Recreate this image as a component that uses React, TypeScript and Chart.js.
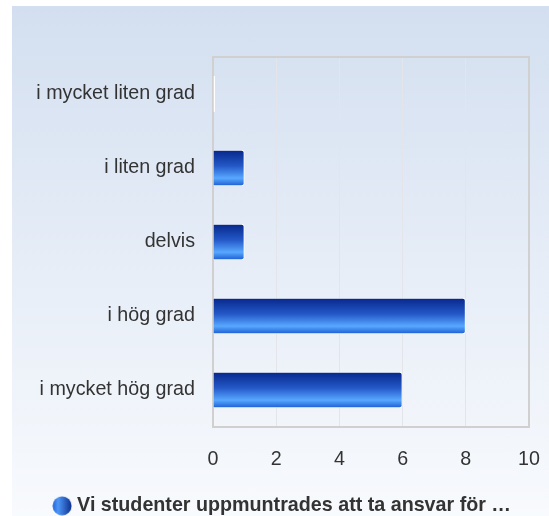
import React, { useEffect, useRef } from "react";
import { Chart, registerables } from "chart.js";

Chart.register(...registerables);

const categories = ["i mycket liten grad", "i liten grad", "delvis", "i hög grad", "i mycket hög grad"];
const values = [0, 1, 1, 8, 6];
const seriesName = "Vi studenter uppmuntrades att ta ansvar för …";
const xTicks = [0, 2, 4, 6, 8, 10];

const FONT = '"Liberation Sans", Arial, sans-serif';
const FS = 19.7;
const BAR_PCT = 0.49;

function makeLegendIcon(): HTMLCanvasElement {
  const c = document.createElement("canvas");
  c.width = 20;
  c.height = 20;
  const g = c.getContext("2d")!;
  const grad = g.createLinearGradient(0, 0, 20, 0);
  grad.addColorStop(0, "#1d5ed6");
  grad.addColorStop(0.3, "#4f97f6");
  grad.addColorStop(1, "#0a2b8a");
  g.fillStyle = grad;
  g.beginPath();
  g.arc(10, 10, 9.5, 0, Math.PI * 2);
  g.fill();
  return c;
}

const plotBorder = {
  id: "plotBorder",
  beforeDatasetsDraw(chart: any) {
    const { ctx, chartArea: a } = chart;
    ctx.save();
    ctx.strokeStyle = "#d0d0d0";
    ctx.lineWidth = 2;
    ctx.strokeRect(a.left, a.top, a.right - a.left, a.bottom - a.top);
    ctx.restore();
  },
};

export default function App() {
  const ref = useRef<HTMLCanvasElement | null>(null);

  useEffect(() => {
    if (!ref.current) return;
    const icon = makeLegendIcon();
    const chart = new Chart(ref.current, {
      type: "bar",
      data: {
        labels: categories,
        datasets: [
          {
            label: seriesName,
            data: values,
            backgroundColor: (c: any) => {
              const ch = c.chart;
              const area = ch.chartArea;
              const ys = ch.scales.y;
              if (!area || !ys) return "#2a6ae0";
              const center = ys.getPixelForValue(c.dataIndex);
              const h = ((area.bottom - area.top) / categories.length) * BAR_PCT;
              const g = ch.ctx.createLinearGradient(0, center - h / 2, 0, center + h / 2);
              g.addColorStop(0, "#06268a");
              g.addColorStop(0.45, "#2459c8");
              g.addColorStop(0.78, "#58a8ff");
              g.addColorStop(1, "#1a5ad2");
              return g;
            },
            borderColor: "#ffffff",
            borderWidth: 1,
            borderRadius: 3,
            borderSkipped: (c: any) => (values[c.dataIndex] === 0 ? false : "start"),
            minBarLength: 2,
            barPercentage: BAR_PCT,
            categoryPercentage: 1,
          },
        ],
      },
      options: {
        indexAxis: "y",
        animation: false,
        responsive: false,
        maintainAspectRatio: false,
        layout: { padding: { left: 19, right: 0, top: 57, bottom: 0 } },
        scales: {
          x: {
            min: 0,
            max: 10,
            afterBuildTicks: (s: any) => {
              s.ticks = xTicks.map((v) => ({ value: v }));
            },
            afterFit: (s: any) => {
              s.height = 59;
              s.paddingRight = 20;
            },
            grid: { color: "#e3e5ea", lineWidth: 1, drawTicks: false },
            border: { display: false },
            ticks: {
              padding: 21,
              color: "#333333",
              font: { family: FONT, size: FS },
            },
          },
          y: {
            afterFit: (s: any) => {
              s.width = 194;
            },
            grid: { display: false, drawTicks: false },
            border: { display: false },
            ticks: {
              padding: 18,
              color: "#333333",
              font: { family: FONT, size: FS },
            },
          },
        },
        plugins: {
          tooltip: { enabled: false },
          legend: {
            position: "bottom",
            maxHeight: 30,
            labels: {
              usePointStyle: true,
              pointStyleWidth: 10.3,
              padding: 10,
              color: "#333333",
              font: { family: FONT, size: FS, weight: "bold" },
              generateLabels: () => [
                {
                  text: seriesName,
                  pointStyle: icon as any,
                  fillStyle: "#1d5ed6",
                  strokeStyle: "transparent",
                  lineWidth: 0,
                  hidden: false,
                  datasetIndex: 0,
                  fontColor: "#333333",
                },
              ],
            },
          },
        },
      },
      plugins: [plotBorder],
    } as any);
    return () => chart.destroy();
  }, []);

  return (
    <div style={{ position: "absolute", left: 0, top: 0, width: 549, height: 516 }}>
      <div
        style={{
          position: "absolute",
          left: 12,
          top: 6,
          width: 537,
          height: 510,
          background: "linear-gradient(to bottom, #d3dff0 0%, #e6edf7 50%, #f8fafd 100%)",
        }}
      />
      <canvas ref={ref} width={549} height={516} style={{ position: "absolute", left: 0, top: 0, width: 549, height: 516 }} />
    </div>
  );
}
